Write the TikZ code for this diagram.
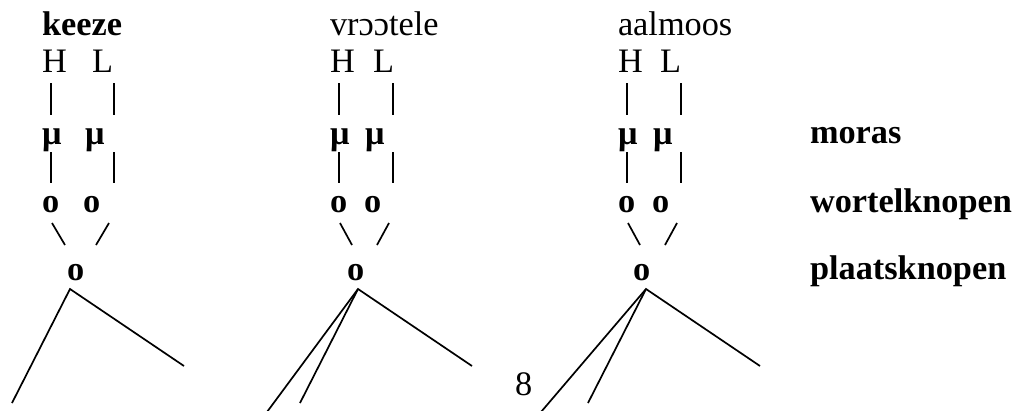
\documentclass[tikz,border=0pt]{standalone}
\usepackage{fontspec}
\setmainfont{Liberation Serif}
\begin{document}
\begin{tikzpicture}[x=1pt,y=-1pt,
  txt/.style={anchor=base west,inner sep=0pt,outer sep=0pt,font=\fontsize{34.3}{40}\selectfont},
  btxt/.style={txt,font=\fontsize{34.3}{40}\selectfont\bfseries},
  ln/.style={line width=1.7pt,line cap=butt}]
\useasboundingbox (0,0) rectangle (1015,410);
% column 1
\node[btxt] (w1) at (42,35) {keeze};
\node[txt] (H1) at (42,72) {H};
\node[txt] (L1) at (92,72) {L};
\node[btxt] (m1a) at (42,144) {μ};
\node[btxt] (m1b) at (85,144) {μ};
\node[btxt] (r1a) at (42,212) {o};
\node[btxt] (r1b) at (83,212) {o};
\node[btxt] (p1) at (67,280) {o};
% column 2
\node[txt] (w2) at (330,35) {vrɔɔtele};
\node[txt] (H2) at (330,72) {H};
\node[txt] (L2) at (373,72) {L};
\node[btxt] (m2a) at (330,144) {μ};
\node[btxt] (m2b) at (365,144) {μ};
\node[btxt] (r2a) at (330,212) {o};
\node[btxt] (r2b) at (364,212) {o};
\node[btxt] (p2) at (347,280) {o};
% column 3
\node[txt] (w3) at (618,35) {aalmoos};
\node[txt] (H3) at (618,72) {H};
\node[txt] (L3) at (660,72) {L};
\node[btxt] (m3a) at (618,144) {μ};
\node[btxt] (m3b) at (653,144) {μ};
\node[btxt] (r3a) at (618,212) {o};
\node[btxt] (r3b) at (652,212) {o};
\node[btxt] (p3) at (633,280) {o};
% labels
\node[btxt] (lm) at (810,143) {moras};
\node[btxt] (lw) at (810,212) {wortelknopen};
\node[btxt] (lp) at (810,279) {plaatsknopen};
\node[txt] (pg) at (515,395) {8};
% bar coordinates
\foreach \c/\xa/\xb in {1/51/114,2/339/393,3/627/681}{
  \coordinate (ua\c) at (\xa,83); \coordinate (va\c) at (\xa,115);
  \coordinate (ub\c) at (\xb,83); \coordinate (vb\c) at (\xb,115);
  \coordinate (sa\c) at (\xa,152); \coordinate (ta\c) at (\xa,183);
  \coordinate (sb\c) at (\xb,152); \coordinate (tb\c) at (\xb,183);
  \draw[ln] (ua\c) -- (va\c); \draw[ln] (ub\c) -- (vb\c);
  \draw[ln] (sa\c) -- (ta\c); \draw[ln] (sb\c) -- (tb\c);
}
% slashes
\coordinate (d1a) at (52,223); \coordinate (e1a) at (65,245);
\coordinate (d1b) at (109,223); \coordinate (e1b) at (96,245);
\coordinate (d2a) at (340,223); \coordinate (e2a) at (352,245);
\coordinate (d2b) at (389,223); \coordinate (e2b) at (377,245);
\coordinate (d3a) at (628,223); \coordinate (e3a) at (640,245);
\coordinate (d3b) at (677,223); \coordinate (e3b) at (665,245);
\foreach \c in {1,2,3}{
  \draw[ln] (d\c a) -- (e\c a); \draw[ln] (d\c b) -- (e\c b);
}
% trees
\coordinate (a1) at (70,289); \coordinate (a2) at (358,289); \coordinate (a3) at (646,289);
\coordinate (f1l) at (12,403); \coordinate (f1r) at (184,366);
\coordinate (f2l) at (267,412); \coordinate (f2m) at (300,403); \coordinate (f2r) at (472,366);
\coordinate (f3l) at (541,412); \coordinate (f3m) at (588,403); \coordinate (f3r) at (760,366);
\draw[ln] (f1l) -- (a1) -- (f1r);
\draw[ln] (f2l) -- (a2) -- (f2r);
\draw[ln] (a2) -- (f2m);
\draw[ln] (f3l) -- (a3) -- (f3r);
\draw[ln] (a3) -- (f3m);
\end{tikzpicture}
\end{document}
